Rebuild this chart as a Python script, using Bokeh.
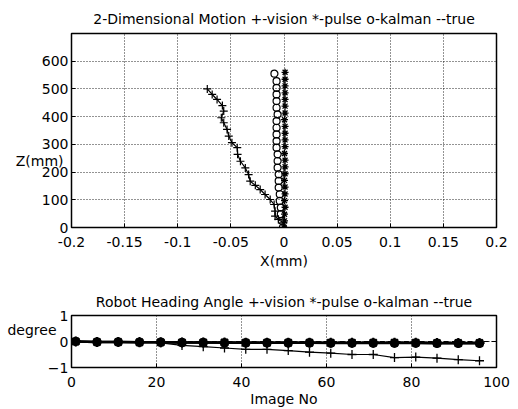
from bokeh.plotting import figure
from bokeh.layouts import column
from bokeh.models import FixedTicker, LinearAxis, Range1d
from bokeh.embed import file_html
from bokeh.resources import INLINE

FONT = "DejaVu Sans"

# ---- 2-D motion data (X in mm, Z in mm) ----
vision_x = [0.0, -0.0006, -0.0053, -0.0084, -0.0084, -0.0093, -0.013, -0.0178, -0.0224, -0.027,
            -0.0318, -0.0333, -0.0364, -0.041, -0.0437, -0.044, -0.049, -0.052, -0.0536,
            -0.0567, -0.059, -0.0567, -0.058, -0.063, -0.0676, -0.0722]
vision_z = [0, 17, 29, 41, 59, 83, 101, 119, 137, 152, 167, 191, 215, 239, 264, 288, 306,
            330, 354, 378, 396, 420, 440, 462, 480, 500]

kalman_x = [-0.001, -0.002, -0.003, -0.003, -0.004, -0.004, -0.005, -0.005, -0.005, -0.006,
            -0.006, -0.006, -0.007, -0.007, -0.007, -0.007, -0.007, -0.006, -0.007, -0.007,
            -0.007, -0.007, -0.007, -0.009]
kalman_z = [0, 24, 48, 72, 96, 120, 144, 168, 192, 216, 240, 264, 288, 312, 336, 360, 384,
            408, 432, 456, 480, 504, 528, 555]

pulse_x = [0.0, 0.0005, 0.0005, 0.001, 0.0005, 0.001, 0.001, 0.0005, 0.001, 0.001, 0.001,
           0.0005, 0.001, 0.001, 0.001, 0.001, 0.0005, 0.001, 0.001, 0.001, 0.001, 0.001,
           0.001, 0.001]
pulse_z = [0, 24, 48, 73, 97, 121, 146, 170, 194, 219, 243, 267, 292, 316, 340, 365, 389,
           413, 438, 462, 486, 511, 535, 560]

true_x = [0.0, 0.0]
true_z = [0, 560]

x_ticks = [-0.2, -0.15, -0.1, -0.05, 0.0, 0.05, 0.1, 0.15, 0.2]
x_tick_labels = ["-0.2", "-0.15", "-0.1", "-0.05", "0", "0.05", "0.1", "0.15", "0.2"]
z_ticks = [0, 100, 200, 300, 400, 500, 600]
z_label = "Z(mm)"
z_label_at = 241

# ---- heading angle data (degree) ----
image_no = [1, 6, 11, 16, 21, 26, 31, 36, 41, 46, 51, 56, 61, 66, 71, 76, 81, 86, 91, 96]
heading_vision = [0.0, 0.0, 0.0, 0.0, -0.05, -0.15, -0.2, -0.25, -0.3, -0.3, -0.35, -0.41,
                  -0.45, -0.5, -0.5, -0.62, -0.6, -0.64, -0.7, -0.74]
heading_pulse = [0.0, -0.02, -0.02, -0.03, -0.03, -0.04, -0.04, -0.04, -0.05, -0.05, -0.05,
                 -0.05, -0.05, -0.05, -0.05, -0.05, -0.05, -0.06, -0.06, -0.06]
heading_kalman = [0.0, -0.02, -0.02, -0.03, -0.03, -0.04, -0.04, -0.05, -0.05, -0.05, -0.05,
                  -0.05, -0.06, -0.06, -0.06, -0.06, -0.06, -0.07, -0.07, -0.07]
heading_true_no = [1, 100]
heading_true = [0.0, 0.0]

img_ticks = [0, 20, 40, 60, 80, 100]
deg_ticks = [-1, 0, 1]
deg_label = "degree"
deg_label_at = 0.46


def style_axis(ax):
    ax.axis_line_color = None
    ax.major_tick_in = 4
    ax.major_tick_out = 0
    ax.major_tick_line_color = "black"
    ax.minor_tick_line_color = None
    ax.major_label_text_font = FONT
    ax.major_label_text_font_size = "14px"
    ax.major_label_text_color = "black"
    ax.axis_label_text_font = FONT
    ax.axis_label_text_font_size = "14px"
    ax.axis_label_text_font_style = "normal"
    ax.axis_label_text_color = "black"


def style(p):
    p.background_fill_color = "white"
    p.border_fill_color = "white"
    p.outline_line_color = "black"
    p.outline_line_width = 1.5
    p.outline_line_alpha = 1.0
    p.title.text_font = FONT
    p.title.text_font_size = "14px"
    p.title.text_font_style = "normal"
    p.title.text_color = "black"
    p.title.align = "center"
    for ax in (p.xaxis[0], p.yaxis[0]):
        style_axis(ax)
    p.yaxis[0].major_label_standoff = 3
    for g in (p.xgrid[0], p.ygrid[0]):
        g.grid_line_color = "black"
        g.grid_line_dash = "1 2"
        g.grid_line_width = 1
        g.grid_line_alpha = 0.85


def side_label(p, where, text, standoff):
    # horizontal y-axis label drawn as a lone tick label of an extra left axis
    ax = LinearAxis(ticker=FixedTicker(ticks=[where]),
                    major_label_overrides={where: text})
    style_axis(ax)
    ax.major_tick_line_color = None
    ax.major_label_standoff = standoff
    p.add_layout(ax, "left")


# ---------------- top figure ----------------
p1 = figure(width=518, height=273, output_backend="svg", toolbar_location=None,
            x_range=Range1d(-0.2, 0.2), y_range=Range1d(0, 700),
            min_border_left=71, min_border_right=22, min_border_top=33, min_border_bottom=46,
            title="2-Dimensional Motion +-vision *-pulse o-kalman --true")
style(p1)
p1.title.standoff = 13
p1.xaxis.ticker = FixedTicker(ticks=x_ticks)
p1.xaxis.major_label_overrides = {t: l for t, l in zip(x_ticks, x_tick_labels)}
p1.yaxis.ticker = FixedTicker(ticks=z_ticks)
p1.xaxis.axis_label = "X(mm)"
p1.xaxis.major_label_standoff = 9
p1.xaxis.axis_label_standoff = 3
side_label(p1, z_label_at, z_label, -25)

p1.line(true_x, true_z, line_color="black", line_width=1.2, line_dash="5 3")
p1.line(vision_x, vision_z, line_color="black", line_width=1.2)
p1.scatter(vision_x, vision_z, marker="cross", size=8, line_color="black", line_width=1.2)
p1.scatter(kalman_x, kalman_z, marker="circle", size=7, line_color="black", fill_color=None,
           line_width=1.2)
p1.scatter(pulse_x, pulse_z, marker="asterisk", size=7, line_color="black", line_width=1.3)

# ---------------- bottom figure ----------------
p2 = figure(width=518, height=136, output_backend="svg", toolbar_location=None,
            x_range=Range1d(0, 100), y_range=Range1d(-1, 1),
            min_border_left=71, min_border_right=22, min_border_top=42, min_border_bottom=42,
            title="Robot Heading Angle +-vision *-pulse o-kalman --true")
style(p2)
p2.title.standoff = 11
p2.xaxis.ticker = FixedTicker(ticks=img_ticks)
p2.yaxis.ticker = FixedTicker(ticks=deg_ticks)
p2.xaxis.axis_label = "Image No"
p2.xaxis.major_label_standoff = 9
p2.xaxis.axis_label_standoff = 1
side_label(p2, deg_label_at, deg_label, -12)

p2.line(heading_true_no, heading_true, line_color="black", line_width=1.2, line_dash="5 3")
p2.line(image_no, heading_pulse, line_color="black", line_width=2.5)
p2.line(image_no, heading_kalman, line_color="black", line_width=2.5)
p2.line(image_no, heading_vision, line_color="black", line_width=1.2)
p2.scatter(image_no, heading_vision, marker="cross", size=9, line_color="black", line_width=1.3)
p2.scatter(image_no, heading_kalman, marker="circle", size=8, line_color="black",
           fill_color="black", line_width=1.5)
p2.scatter(image_no, heading_pulse, marker="asterisk", size=10, line_color="black",
           line_width=2)

layout = column(p1, p2, spacing=0)
open("out.html", "w").write(file_html(layout, INLINE))
